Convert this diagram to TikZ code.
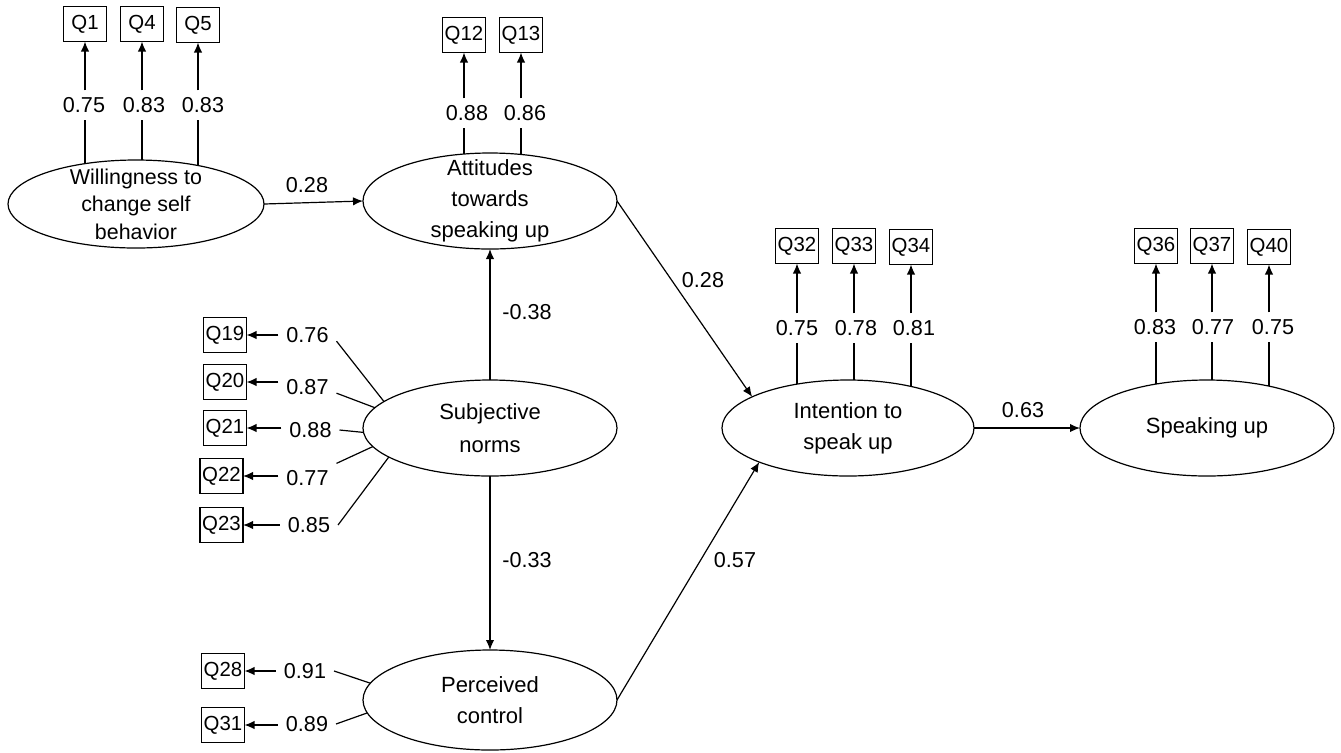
\documentclass[tikz,border=0pt]{standalone}
\usepackage{fontspec}
\setmainfont{Liberation Sans}
\usetikzlibrary{arrows.meta,shapes.geometric,calc}
\begin{document}
\begin{tikzpicture}[x=0.5pt,y=-0.5pt,
  latent/.style={draw, ellipse, inner sep=0pt, outer sep=0pt, line width=0.6pt},
  ltext/.style={align=center, inner sep=0pt, font=\fontsize{11}{15.5}\selectfont},
  obs/.style={draw, rectangle, minimum width=21.5pt, minimum height=17.5pt, inner sep=0.5pt, outer sep=0pt, line width=0.6pt, font=\fontsize{10.2}{11}\selectfont},
  coef/.style={inner xsep=4pt, inner ysep=3.5pt, outer sep=0pt, font=\fontsize{10.8}{13}\selectfont},
  plain/.style={line width=0.6pt},
  path/.style={line width=0.6pt, -{Latex[length=5pt,width=4.2pt]}}]
\useasboundingbox (0,0) rectangle (1341,752);

% latent variables
\node[latent, minimum width=128pt, minimum height=44pt] (w) at (136,204) {};
\node[latent, minimum width=127pt, minimum height=48pt] (att) at (490,201) {};
\node[latent, minimum width=127pt, minimum height=48pt] (sn) at (490,428) {};
\node[latent, minimum width=127pt, minimum height=50pt] (pc) at (490,700) {};
\node[latent, minimum width=126pt, minimum height=48pt] (int) at (848,428) {};
\node[latent, minimum width=127pt, minimum height=48pt] (spk) at (1207,428) {};

\node[ltext, font=\fontsize{10.7}{13.75}\selectfont] (w-t) at (w) {Willingness to\\change self\\behavior};
\node[ltext] (att-t) at (att) {Attitudes\\towards\\speaking up};
\node[ltext, font=\fontsize{11}{16.5}\selectfont] (sn-t) at (sn) {Subjective\\norms};
\node[ltext] (pc-t) at (pc) {Perceived\\control};
\node[ltext] (int-t) at (int) {Intention to\\speak up};
\node[ltext] (spk-t) at (spk) {Speaking up};

% vertical indicators
\foreach \lat/\q/\qx/\qy/\lx/\ly/\c/\a in {
  w/1/85/24/84/105/0.75/141.6,
  w/4/142/24/144/105/0.83/82.2,
  w/5/198/25/203/105/0.83/31.8,
  att/12/464/35/467/113/0.88/118.9,
  att/13/521/35/525/113/0.86/56.4,
  int/32/797/246/797/328/0.75/139.3,
  int/33/854/246/856/328/0.78/82.9,
  int/34/911/247/914/328/0.81/33.4,
  spk/36/1156/246/1155/327/0.83/139.2,
  spk/37/1212/246/1213/327/0.77/84,
  spk/40/1269/247/1273/327/0.75/34}
{
  \node[obs] (q\q) at (\qx,\qy) {Q\q};
  \node[coef] (l\q) at (\lx,\ly) {\c};
  \draw[plain] (q\q |- \lat.\a) -- (q\q |- l\q.south);
  \draw[path] (q\q |- l\q.north) -- (q\q.south);
}

% horizontal indicators
\foreach \lat/\q/\qx/\qy/\lx/\ly/\c/\a/\an in {
  sn/19/225/335/307.5/335/0.76/166/-12,
  sn/20/225/382/307.5/387/0.87/170/-12,
  sn/21/225/428/310.5/430/0.88/182/0,
  sn/22/221.5/476/307.5/478/0.77/189/north east,
  sn/23/221.5/525/309/525/0.85/196/0,
  pc/28/223/671/305/671/0.91/172/0,
  pc/31/223/725/307/724/0.89/186/0}
{
  \node[obs] (q\q) at (\qx,\qy) {Q\q};
  \node[coef] (l\q) at (\lx,\ly) {\c};
  \draw[plain] (\lat.\a) -- (l\q.\an);
  \draw[path] (l\q.west |- q\q) -- (q\q.east);
}

% structural paths
\draw[path] (w.east) -- (att.west);
\node[coef] (c1) at (307,185) {0.28};
\draw[path] (sn.north) -- (att.south);
\node[coef] (c2) at (527,312) {-0.38};
\draw[path] (sn.south) -- (pc.north);
\node[coef] (c3) at (527,560) {-0.33};
\draw[path] (att.east) -- (int.162);
\node[coef] (c4) at (703,280) {0.28};
\draw[path] (pc.east) -- (int.201);
\node[coef] (c5) at (735,560) {0.57};
\draw[path] (int.east) -- (spk.west);
\node[coef] (c6) at (1023,410) {0.63};
\end{tikzpicture}
\end{document}
